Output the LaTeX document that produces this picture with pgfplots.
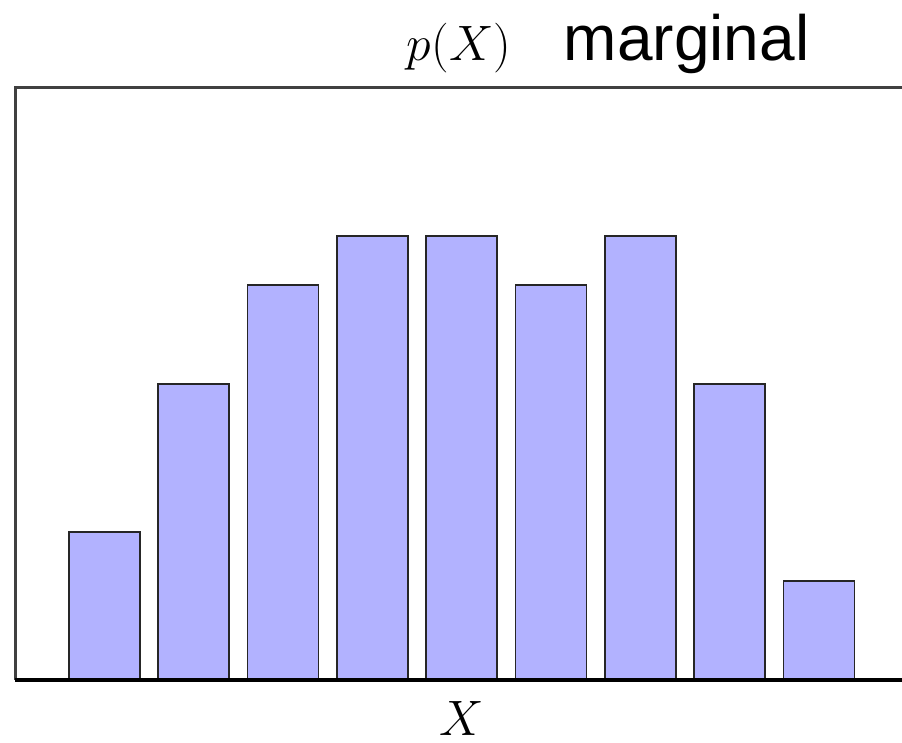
\documentclass[border=0pt]{standalone}
\usepackage{fontspec}
\usepackage{pgfplots}
\pgfplotsset{compat=1.18}
\newfontfamily\helv{Liberation Sans}
\begin{document}
\begin{tikzpicture}
\begin{axis}[
  scale only axis, width=443.5pt, height=296pt,
  xmin=0, xmax=9.93, ymin=0, ymax=12,
  hide axis, clip=false,
  ybar, bar width=0.795,
]
\addplot[fill=blue!30, draw=black!85, line width=0.9pt]
  coordinates {(1,3) (2,6) (3,8) (4,9) (5,9) (6,8) (7,9) (8,6) (9,2)};
% frame: left and top edges, heavier baseline
\draw[line width=1.5pt, black!75] (rel axis cs:1,1) -- (rel axis cs:0,1) -- (rel axis cs:0,0);
\draw[line width=2pt] (rel axis cs:0,0) -- (rel axis cs:1,0);
\coordinate (sw) at (rel axis cs:0,0);
\coordinate (ne) at (rel axis cs:1,1);
\node[anchor=base, inner sep=0] at ([yshift=13.5pt]axis cs:4.97,12)
  {\fontsize{24.5}{28}\selectfont$p(X)$};
\node[anchor=base west, inner sep=0] at ([yshift=13.5pt]axis cs:6.14,12)
  {\helv\fontsize{32}{36}\selectfont marginal};
\node[anchor=base, inner sep=0] at ([yshift=-27.5pt]axis cs:5.0,0)
  {\fontsize{23.5}{26}\selectfont$X$};
\end{axis}
\pgfresetboundingbox
\path[use as bounding box] ([xshift=-7.5pt,yshift=-31pt]sw) rectangle ([yshift=44pt]ne);
\end{tikzpicture}
\end{document}
